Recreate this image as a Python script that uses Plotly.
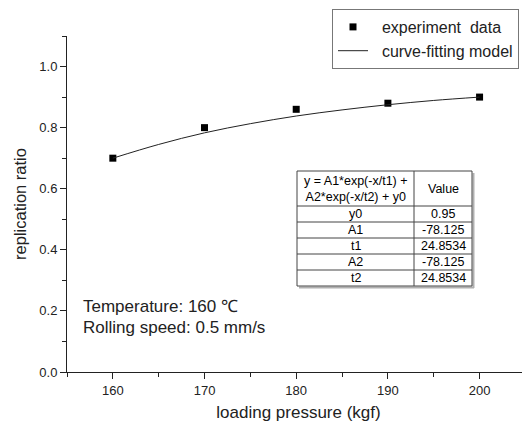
import plotly.graph_objects as go

# experiment data
pressure = [160, 170, 180, 190, 200]
ratio = [0.70, 0.80, 0.86, 0.88, 0.90]

# curve-fitting model
curve_x = [160, 165, 170, 175, 180, 185, 190, 195, 200]
curve_y = [0.700, 0.745, 0.783, 0.813, 0.838, 0.858, 0.875, 0.889, 0.900]

# fit parameter table
param_names = ["y0", "A1", "t1", "A2", "t2"]
param_values = ["0.95", "-78.125", "24.8534", "-78.125", "24.8534"]
table_header = ["y = A1*exp(-x/t1) +<br>A2*exp(-x/t2) + y0", "Value"]

x_ticks = [160, 170, 180, 190, 200]
y_ticks = [0.0, 0.2, 0.4, 0.6, 0.8, 1.0]

FONT = "Arial, Liberation Sans, sans-serif"
INK = "#222222"
OFF = 8                      # default page margin of the html body
PAGE_W, PAGE_H = 530, 424
L, T, R_PAGE, B_PAGE = 67, 36, 530, 372   # plot area in page pixels
W, H = PAGE_W - OFF, PAGE_H - OFF
pw, ph = R_PAGE - L, B_PAGE - T

def px_x(x):
    return (x - L) / pw

def px_y(y):
    return (B_PAGE - y) / ph

fig = go.Figure()

fig.add_trace(go.Scatter(
    x=pressure, y=ratio, mode="markers",
    name="\u00a0\u00a0experiment\u00a0 data",
    marker=dict(symbol="square", size=7, color="black"),
))
fig.add_trace(go.Scatter(
    x=curve_x, y=curve_y, mode="lines",
    name="\u00a0\u00a0curve-fitting model",
    line=dict(color=INK, width=1, shape="spline"),
))

# ---- parameter table drawn with shapes + annotations ----
tx0, tx1, tx2 = 297, 414, 472
ty0, ty_head = 171, 206
row_h = 16
n_rows = len(param_names)
ty_end = ty_head + row_h * n_rows

shapes = []
# shadow
shapes.append(dict(type="line", xref="paper", yref="paper",
                   x0=px_x(tx0 + 2), x1=px_x(tx2 + 2), y0=px_y(ty_end + 1.5), y1=px_y(ty_end + 1.5),
                   line=dict(color="#b0b0b0", width=2)))
shapes.append(dict(type="line", xref="paper", yref="paper",
                   x0=px_x(tx2 + 1.5), x1=px_x(tx2 + 1.5), y0=px_y(ty0 + 2), y1=px_y(ty_end + 2),
                   line=dict(color="#b0b0b0", width=2)))
shapes.append(dict(type="rect", xref="paper", yref="paper",
                   x0=px_x(tx0), x1=px_x(tx2), y0=px_y(ty_end), y1=px_y(ty0),
                   line=dict(color="#444444", width=1), fillcolor="white", layer="above"))
shapes.append(dict(type="line", xref="paper", yref="paper",
                   x0=px_x(tx1), x1=px_x(tx1), y0=px_y(ty_end), y1=px_y(ty0),
                   line=dict(color="#444444", width=1)))
for i in range(n_rows):
    yy = ty_head + i * row_h
    shapes.append(dict(type="line", xref="paper", yref="paper",
                       x0=px_x(tx0), x1=px_x(tx2), y0=px_y(yy), y1=px_y(yy),
                       line=dict(color="#444444", width=1)))

annotations = []
tfont = dict(family=FONT, size=12.5, color="black")
annotations.append(dict(xref="paper", yref="paper", x=px_x((tx0 + tx1) / 2),
                        y=px_y((ty0 + ty_head) / 2), text=table_header[0],
                        showarrow=False, xanchor="center", yanchor="middle",
                        font=tfont, align="center"))
annotations.append(dict(xref="paper", yref="paper", x=px_x((tx1 + tx2) / 2),
                        y=px_y((ty0 + ty_head) / 2), text=table_header[1],
                        showarrow=False, xanchor="center", yanchor="middle", font=tfont))
for i, (nm, val) in enumerate(zip(param_names, param_values)):
    yc = ty_head + i * row_h + row_h / 2
    annotations.append(dict(xref="paper", yref="paper", x=px_x((tx0 + tx1) / 2),
                            y=px_y(yc), text=nm, showarrow=False,
                            xanchor="center", yanchor="middle", font=tfont))
    annotations.append(dict(xref="paper", yref="paper", x=px_x((tx1 + tx2) / 2),
                            y=px_y(yc), text=val, showarrow=False,
                            xanchor="center", yanchor="middle", font=tfont))

nfont = dict(family=FONT, size=17, color=INK)
annotations.append(dict(xref="paper", yref="paper", x=px_x(81), y=px_y(306),
                        xanchor="left", yanchor="middle", showarrow=False,
                        text="Temperature: 160 \u2103", font=nfont))
annotations.append(dict(xref="paper", yref="paper", x=px_x(81), y=px_y(327),
                        xanchor="left", yanchor="middle", showarrow=False,
                        text="Rolling speed: 0.5 mm/s", font=nfont))

fig.update_layout(
    width=W, height=H,
    margin=dict(l=L - OFF, r=PAGE_W - R_PAGE, t=T - OFF, b=PAGE_H - B_PAGE, autoexpand=False),
    paper_bgcolor="white", plot_bgcolor="white",
    font=dict(family=FONT, size=12, color=INK),
    showlegend=True,
    shapes=shapes,
    annotations=annotations,
    legend=dict(x=px_x(332), y=px_y(9), xanchor="left", yanchor="top",
                bordercolor="#777777", borderwidth=1, bgcolor="white",
                font=dict(family=FONT, size=16, color=INK),
                tracegroupgap=0, itemwidth=30),
    xaxis=dict(range=[155, 205.5], tickvals=x_ticks, ticks="outside",
               ticklen=6, tickcolor=INK, showline=True,
               linecolor=INK, linewidth=1, showgrid=False, zeroline=False,
               minor=dict(dtick=5, ticks="outside", ticklen=4, tickcolor=INK),
               tickfont=dict(size=13),
               title=dict(text="loading pressure (kgf)", font=dict(size=17), standoff=9)),
    yaxis=dict(range=[0, 1.1], tickvals=y_ticks, tickformat=".1f", ticks="outside",
               ticklen=6, tickcolor=INK, showline=True,
               linecolor=INK, linewidth=1, showgrid=False, zeroline=False,
               minor=dict(dtick=0.1, ticks="outside", ticklen=4, tickcolor=INK),
               tickfont=dict(size=13),
               title=dict(text="replication ratio", font=dict(size=16.5), standoff=8)),
)

fig.write_html("out.html")
